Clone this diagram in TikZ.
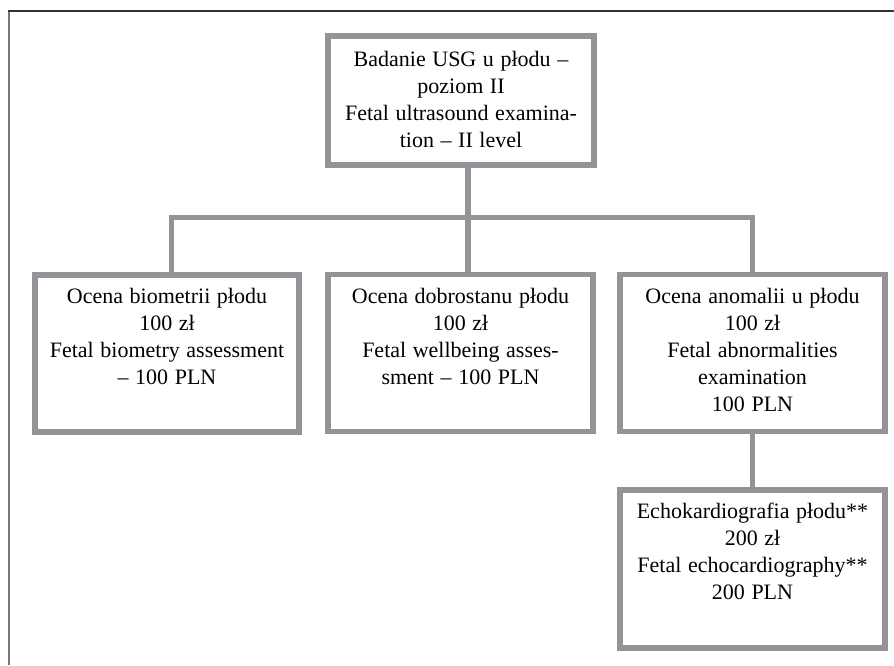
\documentclass[tikz,border=0pt]{standalone}
\usepackage{fontspec}
\setmainfont{Liberation Serif}
\definecolor{boxgray}{RGB}{146,148,151}
\definecolor{framedark}{RGB}{50,50,50}
\definecolor{framegray}{RGB}{120,120,120}
\newcommand{\widesp}{\spaceskip=0.3em\relax}
\tikzset{
  boxstyle/.style={draw=boxgray, line width=5.5pt, fill=white, inner sep=0pt},
  txt/.style={align=center, inner sep=0pt, font=\fontsize{22}{27}\selectfont, execute at begin node=\widesp},
  conn/.style={draw=boxgray, line width=5.5pt, line join=miter}
}
\begin{document}
\begin{tikzpicture}[x=1pt,y=-1pt]
\useasboundingbox (0,0) rectangle (894,665);
% frame
\draw[framegray, line width=2pt] (9,11) -- (9,665);
\draw[framedark, line width=1.8pt] (8,11) -- (894,11);
% coordinates for connector positions
\coordinate (s1) at (171.5,217.5);
\coordinate (s2) at (468,217.5);
\coordinate (s3) at (752.5,217.5);
% boxes
\node[boxstyle, minimum width=266pt, minimum height=129pt] (top) at (461,100.5) {};
\node[boxstyle, minimum width=264pt, minimum height=157pt] (b1) at (167,353.5) {};
\node[boxstyle, minimum width=265pt, minimum height=157pt] (b2) at (460.5,353) {};
\node[boxstyle, minimum width=265pt, minimum height=157pt] (b3) at (752.5,353) {};
\node[boxstyle, minimum width=265pt, minimum height=158pt] (b4) at (752.5,569) {};
% connectors
\draw[conn] (s1 |- b1.north) -- (s1) -- (s3) -- (s3 |- b3.north);
\draw[conn] (s2 |- top.south) -- (s2 |- b2.north);
\draw[conn] (s3 |- b3.south) -- (s3 |- b4.north);
% texts
\node[txt, anchor=north] (ttop) at ([yshift=-18pt]top.north) {Badanie USG u płodu –\\poziom II\\Fetal ultrasound examina-\\tion – II level};
\node[txt, anchor=north] (t1) at ([yshift=-16pt]b1.north) {Ocena biometrii płodu\\100 zł\\Fetal biometry assessment\\– 100 PLN};
\node[txt, anchor=north] (t2) at ([yshift=-16pt]b2.north) {Ocena dobrostanu płodu\\100 zł\\Fetal wellbeing asses-\\sment – 100 PLN};
\node[txt, anchor=north] (t3) at ([yshift=-16pt]b3.north) {Ocena anomalii u płodu\\100 zł\\Fetal abnormalities\\examination\\100 PLN};
\node[txt, anchor=north] (t4) at ([yshift=-16pt]b4.north) {Echokardiografia płodu**\\200 zł\\Fetal echocardiography**\\200 PLN};
\end{tikzpicture}
\end{document}
